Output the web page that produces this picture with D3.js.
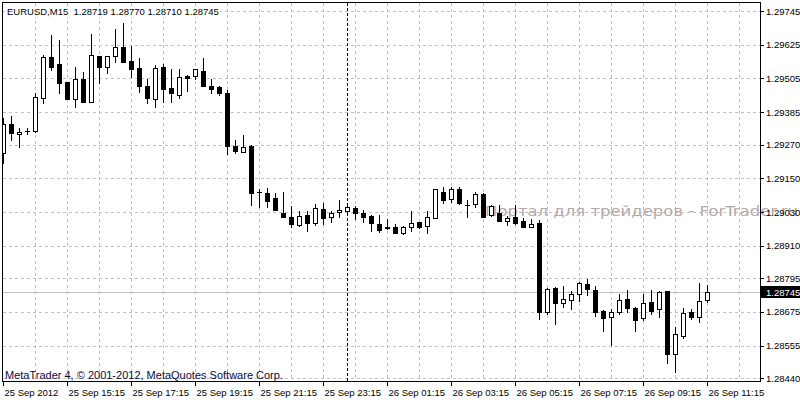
<!DOCTYPE html>
<html>
<head>
<meta charset="utf-8">
<script src="https://cdn.jsdelivr.net/npm/d3@7"></script>
<style>
  body { margin: 0; background: #fff; }
  svg { display: block; font-family: "Liberation Sans", Arial, sans-serif; }
</style>
</head>
<body>
<svg id="chart" width="800" height="400"></svg>
<script>
const symbol = 'EURUSD,M15';

// OHLC of the 15 min bars, 25 Sep 2012 13:15 .. 26 Sep 2012 11:15
const opens = [
  1.29240, 1.29343, 1.29308, 1.29317, 1.29317, 1.29434, 1.29581, 1.29557, 1.29491, 1.29433,
  1.29503, 1.29422, 1.29585, 1.29547, 1.29586, 1.29616, 1.29567, 1.29541, 1.29478, 1.29433,
  1.29545, 1.29470, 1.29446, 1.29514, 1.29514, 1.29533, 1.29478, 1.29474, 1.29454, 1.29266,
  1.29245, 1.29266, 1.29101, 1.29099, 1.29079, 1.29026, 1.29011, 1.28984, 1.29020, 1.28990,
  1.29040, 1.29011, 1.29029, 1.29034, 1.29043, 1.29028, 1.29016, 1.28987, 1.28977, 1.28976,
  1.28954, 1.28978, 1.28994, 1.28982, 1.29010, 1.29100, 1.29075, 1.29111, 1.29055, 1.29059,
  1.29094, 1.29020, 1.29028, 1.28999, 1.29011, 1.28999, 1.28978, 1.28990, 1.28674, 1.28759,
  1.28708, 1.28717, 1.28739, 1.28773, 1.28753, 1.28678, 1.28656, 1.28676, 1.28720, 1.28688,
  1.28652, 1.28709, 1.28684, 1.28749, 1.28524, 1.28589, 1.28674, 1.28656, 1.28719
];
const highs = [
  1.29365, 1.29372, 1.29329, 1.29329, 1.29453, 1.29589, 1.29660, 1.29642, 1.29493, 1.29547,
  1.29529, 1.29663, 1.29586, 1.29586, 1.29680, 1.29701, 1.29621, 1.29577, 1.29503, 1.29553,
  1.29557, 1.29538, 1.29538, 1.29517, 1.29540, 1.29577, 1.29502, 1.29478, 1.29464, 1.29286,
  1.29304, 1.29269, 1.29111, 1.29115, 1.29099, 1.29102, 1.29052, 1.29034, 1.29034, 1.29059,
  1.29061, 1.29034, 1.29073, 1.29055, 1.29052, 1.29037, 1.29020, 1.29020, 1.29004, 1.28987,
  1.28980, 1.29034, 1.28996, 1.29035, 1.29112, 1.29118, 1.29120, 1.29118, 1.29073, 1.29100,
  1.29099, 1.29055, 1.29055, 1.29016, 1.29055, 1.29010, 1.29004, 1.29002, 1.28760, 1.28764,
  1.28767, 1.28749, 1.28780, 1.28792, 1.28767, 1.28682, 1.28684, 1.28738, 1.28753, 1.28694,
  1.28739, 1.28753, 1.28748, 1.28751, 1.28622, 1.28688, 1.28684, 1.28777, 1.28770
];
const lows = [
  1.29205, 1.29286, 1.29261, 1.29308, 1.29315, 1.29418, 1.29535, 1.29453, 1.29432, 1.29405,
  1.29420, 1.29421, 1.29489, 1.29523, 1.29565, 1.29562, 1.29511, 1.29458, 1.29417, 1.29405,
  1.29422, 1.29422, 1.29435, 1.29462, 1.29502, 1.29478, 1.29454, 1.29446, 1.29236, 1.29239,
  1.29244, 1.29055, 1.29047, 1.29049, 1.29036, 1.29013, 1.28976, 1.28982, 1.28964, 1.28984,
  1.28988, 1.28996, 1.29014, 1.29027, 1.29004, 1.28996, 1.28964, 1.28960, 1.28969, 1.28954,
  1.28951, 1.28964, 1.28974, 1.28954, 1.29009, 1.29063, 1.29067, 1.29059, 1.29014, 1.29047,
  1.29013, 1.29016, 1.28998, 1.28984, 1.28988, 1.28977, 1.28976, 1.28650, 1.28667, 1.28631,
  1.28694, 1.28685, 1.28715, 1.28735, 1.28662, 1.28608, 1.28557, 1.28667, 1.28676, 1.28608,
  1.28646, 1.28667, 1.28656, 1.28492, 1.28462, 1.28581, 1.28649, 1.28640, 1.28710
];
const closes = [
  1.29343, 1.29311, 1.29315, 1.29318, 1.29439, 1.29581, 1.29546, 1.29489, 1.29433, 1.29502,
  1.29421, 1.29589, 1.29547, 1.29585, 1.29616, 1.29563, 1.29538, 1.29479, 1.29437, 1.29541,
  1.29467, 1.29452, 1.29509, 1.29508, 1.29538, 1.29479, 1.29469, 1.29454, 1.29266, 1.29248,
  1.29260, 1.29099, 1.29100, 1.29070, 1.29037, 1.29014, 1.28987, 1.29017, 1.28992, 1.29043,
  1.29008, 1.29026, 1.29037, 1.29047, 1.29026, 1.29014, 1.28990, 1.28966, 1.28973, 1.28957,
  1.28976, 1.28990, 1.28978, 1.29011, 1.29111, 1.29072, 1.29111, 1.29063, 1.29054, 1.29094,
  1.29014, 1.29052, 1.28999, 1.29008, 1.28992, 1.28978, 1.28988, 1.28674, 1.28755, 1.28708,
  1.28720, 1.28739, 1.28777, 1.28755, 1.28674, 1.28654, 1.28674, 1.28717, 1.28688, 1.28646,
  1.28706, 1.28679, 1.28745, 1.28524, 1.28595, 1.28670, 1.28656, 1.28715, 1.28745
];

const yTicks = [1.29745, 1.29625, 1.29505, 1.29385, 1.29270, 1.29150,
                1.29030, 1.28910, 1.28795, 1.28675, 1.28555, 1.28440];
const tickLabels = ['25 Sep 2012', '25 Sep 15:15', '25 Sep 17:15', '25 Sep 19:15',
  '25 Sep 21:15', '25 Sep 23:15', '26 Sep 01:15', '26 Sep 03:15', '26 Sep 05:15',
  '26 Sep 07:15', '26 Sep 09:15', '26 Sep 11:15'];
const daySeparator = 43;   // first bar of 26 Sep
const bidPrice = 1.28745;
const watermark = 'Портал для трейдеров - ForTrader.ru';
const copyright = 'MetaTrader 4, \u00A9 2001-2012, MetaQuotes Software Corp.';

const n = opens.length;
const bars = opens.map((o, i) => ({ i, o, h: highs[i], l: lows[i], c: closes[i] }));

const svg = d3.select('#chart');
const plotLeft = 3, plotRight = 760, plotTop = 3, plotBottom = 381;

let x = d3.scaleLinear().domain([0, n - 1]).range([3, 707]);
let y = d3.scaleLinear().domain([1.28440, 1.29745]).range([378, 11]);
const py = (v) => Math.round(y(v));

svg.append('rect').attr('width', 800).attr('height', 400).attr('fill', '#fff');

let grid = svg.append('g').attr('shape-rendering', 'crispEdges')
  .attr('stroke', '#c0c0c0').attr('stroke-dasharray', '3,3');
grid.selectAll('.hg').data(yTicks).join('line')
  .attr('class', 'hg')
  .attr('x1', plotLeft).attr('x2', plotRight)
  .attr('y1', (d) => py(d) + 0.5).attr('y2', (d) => py(d) + 0.5);
grid.selectAll('.vg').data(d3.range(4, 93, 4)).join('line')
  .attr('class', 'vg')
  .attr('x1', (d) => x(d) + 0.5).attr('x2', (d) => x(d) + 0.5)
  .attr('y1', plotTop).attr('y2', plotBottom);

// period separator
svg.append('line').attr('shape-rendering', 'crispEdges')
  .attr('x1', x(daySeparator) + 0.5).attr('x2', x(daySeparator) + 0.5)
  .attr('y1', plotTop).attr('y2', plotBottom)
  .attr('stroke', '#000').attr('stroke-dasharray', '3,2');

// bid line
svg.append('line').attr('shape-rendering', 'crispEdges')
  .attr('x1', plotLeft).attr('x2', plotRight)
  .attr('y1', py(bidPrice) + 0.5).attr('y2', py(bidPrice) + 0.5)
  .attr('stroke', '#c0c0c0');

svg.append('text')
  .attr('x', 485).attr('y', 216)
  .attr('font-family', '"DejaVu Sans", sans-serif')
  .attr('font-size', 14).attr('fill', '#b5a9a9')
  .attr('textLength', 313).attr('lengthAdjust', 'spacingAndGlyphs')
  .text(watermark);

svg.append('clipPath').attr('id', 'plot')
  .append('rect').attr('x', plotLeft).attr('y', plotTop)
  .attr('width', plotRight - plotLeft).attr('height', plotBottom - plotTop);

let candles = svg.append('g').attr('clip-path', 'url(#plot)')
  .attr('shape-rendering', 'crispEdges');

let g = candles.selectAll('g').data(bars).join('g');
g.append('line')
  .attr('x1', (d) => x(d.i) + 0.5).attr('x2', (d) => x(d.i) + 0.5)
  .attr('y1', (d) => py(d.h)).attr('y2', (d) => py(d.l) + 1)
  .attr('stroke', '#000');
g.each(function (d) {
  const cx = x(d.i);
  const t = py(Math.max(d.o, d.c)), b = py(Math.min(d.o, d.c));
  const sel = d3.select(this);
  if (b - t < 1) {
    sel.append('line').attr('x1', cx - 2).attr('x2', cx + 3)
      .attr('y1', t + 0.5).attr('y2', t + 0.5).attr('stroke', '#000');
  } else if (d.c < d.o) {
    sel.append('rect').attr('x', cx - 2).attr('y', t)
      .attr('width', 5).attr('height', b - t + 1).attr('fill', '#000');
  } else {
    sel.append('rect').attr('x', cx - 1.5).attr('y', t + 0.5)
      .attr('width', 4).attr('height', b - t)
      .attr('fill', '#fff').attr('stroke', '#000');
  }
});

// frame
svg.append('rect').attr('shape-rendering', 'crispEdges')
  .attr('x', 2.5).attr('y', 2.5).attr('width', plotRight - 2).attr('height', plotBottom - 2)
  .attr('fill', 'none').attr('stroke', '#000');

let yAxis = svg.append('g')
  .attr('transform', `translate(${plotRight},0)`)
  .call(d3.axisRight(y).tickValues(yTicks).tickSize(4).tickPadding(2)
    .tickFormat(d3.format('.5f')));
yAxis.select('.domain').remove();
yAxis.selectAll('line').attr('shape-rendering', 'crispEdges');
yAxis.selectAll('text').attr('font-size', 9.5)
  .attr('font-family', '"Liberation Sans", Arial, sans-serif').attr('fill', '#000');

let xAxis = svg.append('g')
  .attr('transform', `translate(0,${plotBottom})`)
  .call(d3.axisBottom(x).tickValues(d3.range(0, n, 8)).tickSize(5).tickPadding(3)
    .tickFormat((d, i) => tickLabels[i]));
xAxis.select('.domain').remove();
xAxis.selectAll('line').attr('shape-rendering', 'crispEdges');
xAxis.selectAll('text').attr('font-size', 9.5).attr('text-anchor', 'start')
  .attr('x', 1).attr('font-family', '"Liberation Sans", Arial, sans-serif').attr('fill', '#000');

// current bid label
svg.append('rect').attr('x', plotRight + 1).attr('y', py(bidPrice) - 6)
  .attr('width', 40).attr('height', 12).attr('fill', '#000');
svg.append('text').attr('x', plotRight + 6).attr('y', py(bidPrice) + 0.5)
  .attr('dy', '0.32em').attr('font-size', 9.5).attr('fill', '#fff')
  .text(d3.format('.5f')(bidPrice));

// header
const last = bars[n - 1];
const fmt = d3.format('.5f');
const headerText = `${symbol}  ${fmt(last.o)} ${fmt(last.h)} ${fmt(last.l)} ${fmt(last.c)}`;
let headerBg = svg.append('rect').attr('fill', '#fff');
let header = svg.append('text').attr('x', 7).attr('y', 15)
  .attr('font-size', 9.5).attr('fill', '#000')
  .style('white-space', 'pre').text(headerText);
const hb = header.node().getBBox();
headerBg.attr('x', hb.x - 2).attr('y', hb.y).attr('width', hb.width + 3).attr('height', hb.height);

svg.append('text').attr('x', 5).attr('y', 379)
  .attr('font-size', 11).attr('fill', '#0a0a3c')
  .text(copyright);
</script>
</body>
</html>
